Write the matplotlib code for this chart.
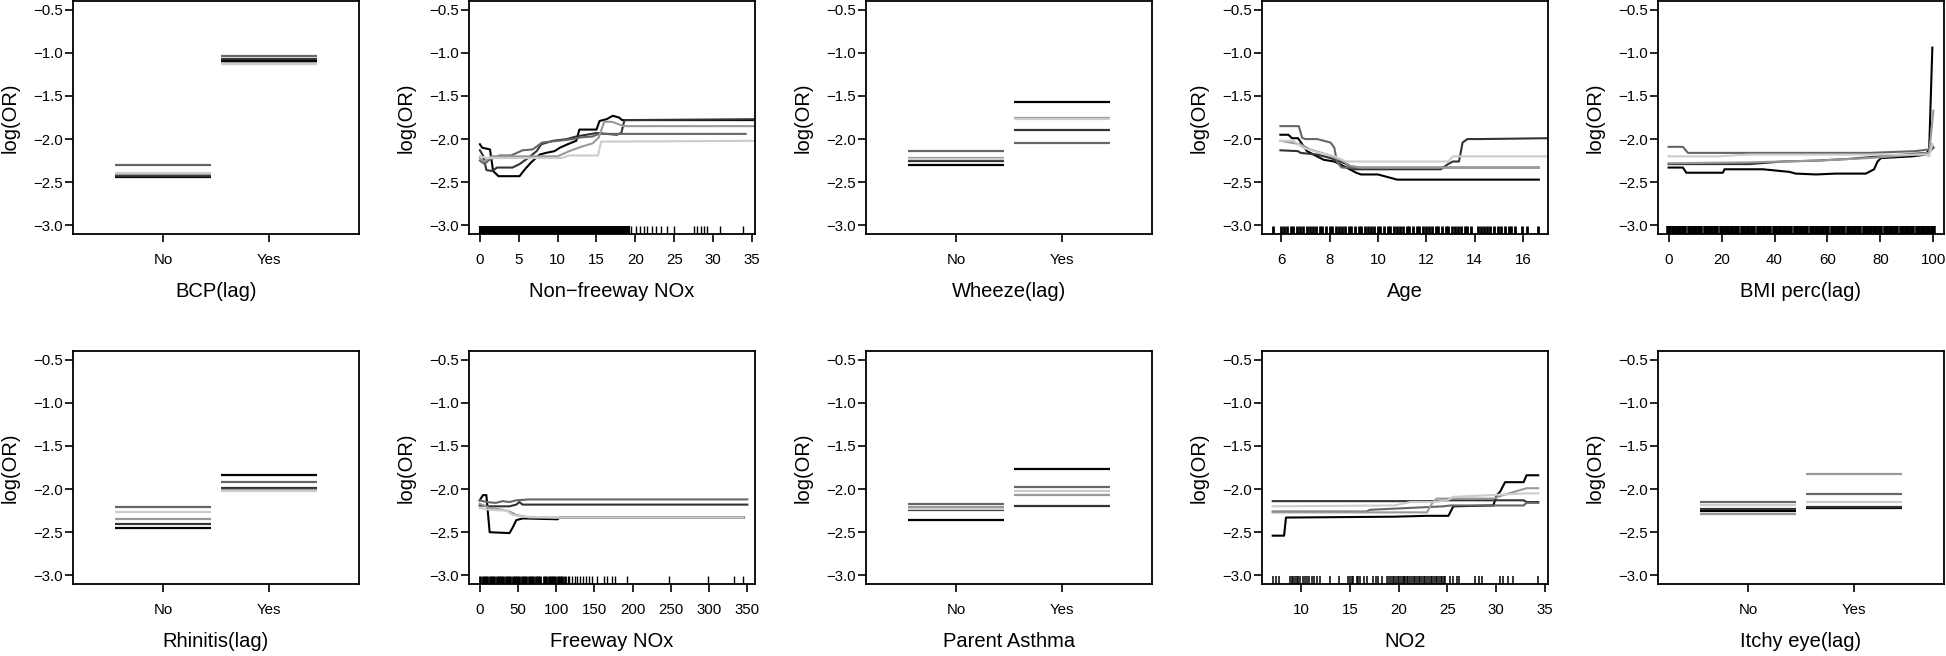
import matplotlib
matplotlib.use('Agg')
import matplotlib.pyplot as plt

plt.rcParams['font.family'] = ['Liberation Sans', 'DejaVu Sans']

# five runs, drawn in grey levels
grays = ['#000000', '#333333', '#666666', '#999999', '#cccccc']
levels = ['No', 'Yes']

# categorical predictors: log(OR) for No / Yes, one value per run
bcp_no = [-2.44, -2.425, -2.295, -2.41, -2.39]
bcp_yes = [-1.095, -1.075, -1.043, -1.12, -1.135]
wheeze_no = [-2.30, -2.25, -2.14, -2.225, -2.235]
wheeze_yes = [-1.565, -1.89, -2.04, -1.755, -1.77]
rhin_no = [-2.453, -2.399, -2.213, -2.349, -2.264]
rhin_yes = [-1.84, -1.985, -1.92, -2.005, -2.025]
pasth_no = [-2.36, -2.244, -2.174, -2.213, -2.236]
pasth_yes = [-1.764, -2.20, -1.977, -2.07, -2.023]
itchy_no = [-2.255, -2.23, -2.155, -2.29, -2.19]
itchy_yes = [-2.225, -2.205, -2.06, -1.825, -2.145]

# Non-freeway NOx
nfnox_x = [
    [0, 0.3, 1.3, 1.7, 2.4, 5.1, 5.8, 6.6, 7.7, 8.5, 9.6, 10.3, 11.3, 12.4, 12.8, 15.0, 15.4, 16.3, 17.1, 17.9, 18.3, 35.2],
    [0, 0.4, 0.85, 1.6, 2.2, 4.2, 5.1, 6.2, 7.3, 7.9, 9.4, 11.2, 12.4, 15.0, 17.6, 18.2, 18.6, 35.2],
    [0, 0.6, 1.2, 2.5, 4.0, 5.5, 6.8, 8.0, 10.0, 12.0, 13.0, 14.5, 15.3, 34.2],
    [0, 0.5, 1.5, 10.0, 11.5, 13.0, 14.5, 15.3, 16.0, 17.0, 18.5, 35.2],
    [0, 1.0, 10.5, 11.5, 15.2, 15.6, 35.2],
]
nfnox_y = [
    [-2.06, -2.1, -2.12, -2.37, -2.43, -2.43, -2.35, -2.27, -2.18, -2.16, -2.14, -2.1, -2.06, -2.02, -1.89, -1.89, -1.79, -1.77, -1.73, -1.75, -1.78, -1.78],
    [-2.13, -2.19, -2.36, -2.37, -2.33, -2.33, -2.29, -2.22, -2.14, -2.06, -2.02, -2.0, -1.97, -1.93, -1.95, -1.93, -1.78, -1.77],
    [-2.25, -2.29, -2.24, -2.19, -2.19, -2.13, -2.12, -2.04, -2.02, -2.0, -1.98, -1.97, -1.94, -1.94],
    [-2.22, -2.26, -2.2, -2.2, -2.14, -2.09, -2.05, -1.98, -1.8, -1.8, -1.85, -1.85],
    [-2.2, -2.22, -2.22, -2.19, -2.19, -2.03, -2.02],
]
nfnox_rug_dense = [0.1, 0.5, 1.0, 1.4, 1.9, 2.3, 2.8, 3.2, 3.7, 4.1, 4.6, 5.0, 5.5, 5.9, 6.4, 6.8, 7.3, 7.7,
                   8.2, 8.6, 9.1, 9.5, 10.0, 10.4, 10.9, 11.3, 11.8, 12.2, 12.7, 13.1, 13.6, 14.0, 14.5, 14.9,
                   15.4, 15.8, 16.3, 16.7, 17.2, 17.6, 18.1, 18.5, 19.0]
nfnox_rug_sparse = [19.4, 20.1, 20.6, 21.1, 21.5, 22.2, 22.6, 23.3, 24.1, 25.0, 27.5, 27.9, 28.4, 28.8, 29.2, 30.9, 33.8]

# Freeway NOx
fnox_x = [
    [0, 4.3, 8.7, 13, 39, 43.5, 47.8, 56.5, 102, 104, 345.6],
    [0, 13, 39, 47.8, 52, 56, 350],
    [0, 8.7, 21, 30, 39, 47.8, 65, 350],
    [0, 13, 30, 39, 48, 65, 345],
    [0, 13, 35, 43, 56, 100, 345],
]
fnox_y = [
    [-2.13, -2.07, -2.07, -2.5, -2.51, -2.44, -2.36, -2.34, -2.35, -2.33, -2.33],
    [-2.19, -2.2, -2.2, -2.18, -2.15, -2.18, -2.18],
    [-2.13, -2.15, -2.16, -2.14, -2.15, -2.13, -2.12, -2.12],
    [-2.17, -2.22, -2.24, -2.26, -2.3, -2.33, -2.33],
    [-2.22, -2.24, -2.25, -2.3, -2.32, -2.33, -2.33],
]
fnox_rug_dense = [1, 4, 7, 10, 13, 16, 19, 22, 25, 28, 31, 34, 37, 40, 43, 46, 49, 52, 55, 58, 61, 64, 67, 70,
                  73, 76, 79, 84, 87, 90, 93, 96, 99, 102, 105, 108, 111]
fnox_rug_sparse = [115, 117, 121, 125, 127, 131, 135, 139, 143, 147, 154, 162, 166, 173, 177, 193, 247, 299, 333, 344]

# Age
age_x = [
    [5.97, 6.3, 6.45, 6.7, 7.07, 7.76, 8.2, 8.7, 9.1, 9.3, 10.0, 10.8, 16.65],
    [5.97, 6.7, 6.8, 7.5, 8.04, 8.7, 9.0, 12.6, 12.9, 13.1, 13.35, 13.5, 13.7, 14.2, 17.03],
    [5.97, 6.73, 6.87, 7.0, 7.5, 8.04, 8.2, 8.3, 8.5, 16.65],
    [5.97, 6.8, 7.2, 7.9, 8.45, 8.87, 9.3, 16.65],
    [5.97, 6.5, 6.9, 7.6, 8.2, 8.7, 12.9, 13.1, 17.03],
]
age_y = [
    [-1.95, -1.95, -1.99, -1.99, -2.14, -2.24, -2.26, -2.33, -2.39, -2.41, -2.41, -2.47, -2.47],
    [-2.13, -2.14, -2.16, -2.18, -2.22, -2.29, -2.35, -2.35, -2.29, -2.26, -2.26, -2.04, -2.0, -2.0, -1.99],
    [-1.85, -1.85, -1.985, -2.0, -2.0, -2.04, -2.1, -2.26, -2.33, -2.33],
    [-2.02, -2.06, -2.12, -2.18, -2.24, -2.31, -2.33, -2.33],
    [-2.02, -2.02, -2.1, -2.16, -2.2, -2.26, -2.26, -2.2, -2.2],
]
age_rug = [5.65, 5.98, 6.1, 6.25, 6.4, 6.5, 6.65, 6.8, 6.9, 7.05, 7.2, 7.3, 7.45, 7.6, 7.7, 7.85, 8.0, 8.1,
           8.25, 8.4, 8.5, 8.65, 8.8, 8.9, 9.05, 9.2, 9.3, 9.45, 9.6, 9.7, 9.85, 10.0, 10.1, 10.25, 10.4, 10.5,
           10.65, 10.8, 10.9, 11.05, 11.2, 11.3, 11.45, 11.6, 11.7, 11.85, 12.0, 12.1, 12.25, 12.4, 12.5, 12.65,
           12.8, 12.9, 13.05, 13.2, 13.3, 13.45, 13.6, 13.7, 13.85, 14.15, 14.25, 14.4, 14.5, 14.65, 14.8,
           14.95, 15.1, 15.25, 15.4, 15.5, 15.65, 15.95, 16.15, 16.6]

# BMI percentile (lag)
bmi_x = [
    [0, 5.4, 6.7, 20.5, 21.1, 35.6, 45.6, 48, 55.7, 63, 74.5, 77.6, 78.9, 80.2, 92, 97.1, 98.4, 99.6],
    [0, 30.5, 43, 55.7, 68, 80, 93, 98, 99, 100],
    [0, 5.4, 7.3, 75.8, 93, 98.4, 99.4, 100],
    [0, 30, 55.7, 75.8, 93.3, 98.4, 100],
    [0, 18, 30.5, 70, 97, 98.4, 99.6],
]
bmi_y = [
    [-2.33, -2.33, -2.39, -2.39, -2.35, -2.35, -2.38, -2.4, -2.41, -2.4, -2.4, -2.35, -2.26, -2.22, -2.2, -2.18, -2.12, -0.94],
    [-2.29, -2.29, -2.26, -2.25, -2.23, -2.2, -2.17, -2.16, -2.13, -2.1],
    [-2.09, -2.09, -2.16, -2.16, -2.14, -2.12, -2.06, -2.1],
    [-2.28, -2.27, -2.25, -2.22, -2.18, -2.16, -1.67],
    [-2.2, -2.2, -2.18, -2.18, -2.18, -2.2, -2.06],
]
bmi_rug = [0, 2, 4, 6, 8, 10, 12, 14, 16, 18, 20, 22, 24, 26, 28, 30, 32, 34, 36, 38, 40, 42, 44, 46, 48, 50,
           52, 54, 56, 58, 60, 62, 64, 66, 68, 70, 72, 74, 76, 78, 80, 82, 84, 86, 88, 90, 92, 94, 96, 98, 100]

# NO2
no2_x = [
    [7.1, 8.26, 8.46, 19.5, 22.9, 25.1, 25.6, 29.7, 30.05, 30.4, 30.9, 32.8, 33.1, 34.3],
    [7.1, 24.0, 25.0, 32.8, 33.1, 34.3],
    [7.1, 16.7, 17.1, 24.6, 25.3, 32.8, 33.1, 34.3],
    [7.1, 22.9, 23.4, 23.9, 29.7, 30.7, 33.1, 34.3],
    [7.1, 19.5, 21.2, 23.6, 25.0, 25.6, 33.1, 34.3],
]
no2_y = [
    [-2.54, -2.54, -2.33, -2.32, -2.31, -2.31, -2.2, -2.19, -2.07, -2.03, -1.92, -1.92, -1.84, -1.84],
    [-2.14, -2.14, -2.13, -2.13, -2.15, -2.15],
    [-2.26, -2.26, -2.24, -2.2, -2.19, -2.19, -2.16, -2.16],
    [-2.27, -2.27, -2.17, -2.11, -2.11, -2.07, -1.99, -1.99],
    [-2.2, -2.19, -2.15, -2.15, -2.13, -2.09, -2.05, -2.05],
]
no2_rug = [7.1, 7.44, 7.78, 8.87, 9.04, 9.21, 9.39, 9.56, 9.73, 9.9, 10.17, 10.41, 10.58, 10.82, 11.09, 11.33,
           11.61, 11.95, 12.97, 13.93, 14.85, 15.02, 15.19, 15.36, 15.7, 15.87, 16.05, 16.45, 16.8, 17.41,
           17.68, 17.92, 18.3, 18.8, 19.0, 19.2, 19.4, 19.5, 19.7, 19.9, 20.0, 20.2, 20.4, 20.5, 20.7, 20.9,
           21.0, 21.2, 21.4, 21.6, 21.7, 21.9, 22.1, 22.2, 22.4, 22.6, 22.7, 22.9, 23.1, 23.3, 23.4, 23.6,
           23.8, 23.9, 24.1, 24.3, 24.4, 24.6, 24.75, 25.27, 25.6, 25.95, 26.2, 27.8, 28.2, 28.5, 30.4, 30.7,
           31.2, 31.75, 34.25]

yticks = [-0.5, -1.0, -1.5, -2.0, -2.5, -3.0]

fig = plt.figure(figsize=(19.46, 6.56), dpi=100)
lefts = [73, 469, 866, 1262, 1658]
tops = [1, 351]
W, H = 286, 233


def new_ax(row, col):
    return fig.add_axes([lefts[col] / 1946, 1 - (tops[row] + H) / 656, W / 1946, H / 656])


def style(ax, xlabel):
    ax.set_ylim(-3.1, -0.4)
    ax.set_yticks(yticks)
    ax.yaxis.set_major_formatter(plt.FuncFormatter(lambda v, p: ('%.1f' % v).replace('-', '\u2212')))
    ax.tick_params(direction='out', length=6, width=1.2, labelsize=10.8, colors='black')
    ax.tick_params(axis='x', pad=8)
    ax.tick_params(axis='y', pad=1.5)
    for s in ax.spines.values():
        s.set_linewidth(1.3)
    ax.set_xlabel(xlabel, fontsize=14.5)
    ax.set_ylabel('log(OR)', fontsize=14.5)
    ax.xaxis.set_label_coords(0.5, -0.205)
    ax.yaxis.set_label_coords(-0.185, 0.5)


def cat_panel(ax, no_vals, yes_vals, xlabel):
    for i in range(5):
        ax.hlines(no_vals[i], 1 - 0.455, 1 + 0.455, colors=grays[i], lw=1.6)
        ax.hlines(yes_vals[i], 2 - 0.455, 2 + 0.455, colors=grays[i], lw=1.6)
    ax.set_xlim(0.15, 2.85)
    ax.set_xticks([1, 2])
    ax.set_xticklabels(levels)
    style(ax, xlabel)


def cont_panel(ax, xs, ys, xlabel, xlim, xticks, rugs):
    for i in range(5):
        ax.plot(xs[i], ys[i], color=grays[i], lw=1.5)
    trans = ax.get_xaxis_transform()
    for vals, w in rugs:
        ax.vlines(vals, 0, 0.034, transform=trans, colors='black', lw=w)
    ax.set_xlim(xlim)
    ax.set_xticks(xticks)
    style(ax, xlabel)


cat_panel(new_ax(0, 0), bcp_no, bcp_yes, 'BCP(lag)')
cont_panel(new_ax(0, 1), nfnox_x, nfnox_y, 'Non\u2212freeway NOx', (-1.4, 35.4), [0, 5, 10, 15, 20, 25, 30, 35],
           [(nfnox_rug_dense, 3.0), (nfnox_rug_sparse, 1.0)])
cat_panel(new_ax(0, 2), wheeze_no, wheeze_yes, 'Wheeze(lag)')
cont_panel(new_ax(0, 3), age_x, age_y, 'Age', (5.21, 17.03), [6, 8, 10, 12, 14, 16],
           [(age_rug, 2.0)])
cont_panel(new_ax(0, 4), bmi_x, bmi_y, 'BMI perc(lag)', (-4, 104), [0, 20, 40, 60, 80, 100],
           [(bmi_rug, 4.0)])

cat_panel(new_ax(1, 0), rhin_no, rhin_yes, 'Rhinitis(lag)')
cont_panel(new_ax(1, 1), fnox_x, fnox_y, 'Freeway NOx', (-14, 360), [0, 50, 100, 150, 200, 250, 300, 350],
           [(fnox_rug_dense, 2.0), (fnox_rug_sparse, 1.0)])
cat_panel(new_ax(1, 2), pasth_no, pasth_yes, 'Parent Asthma')
cont_panel(new_ax(1, 3), no2_x, no2_y, 'NO2', (6.0, 35.3), [10, 15, 20, 25, 30, 35],
           [(no2_rug, 1.1)])
cat_panel(new_ax(1, 4), itchy_no, itchy_yes, 'Itchy eye(lag)')

fig.savefig('out.png', dpi=100)
